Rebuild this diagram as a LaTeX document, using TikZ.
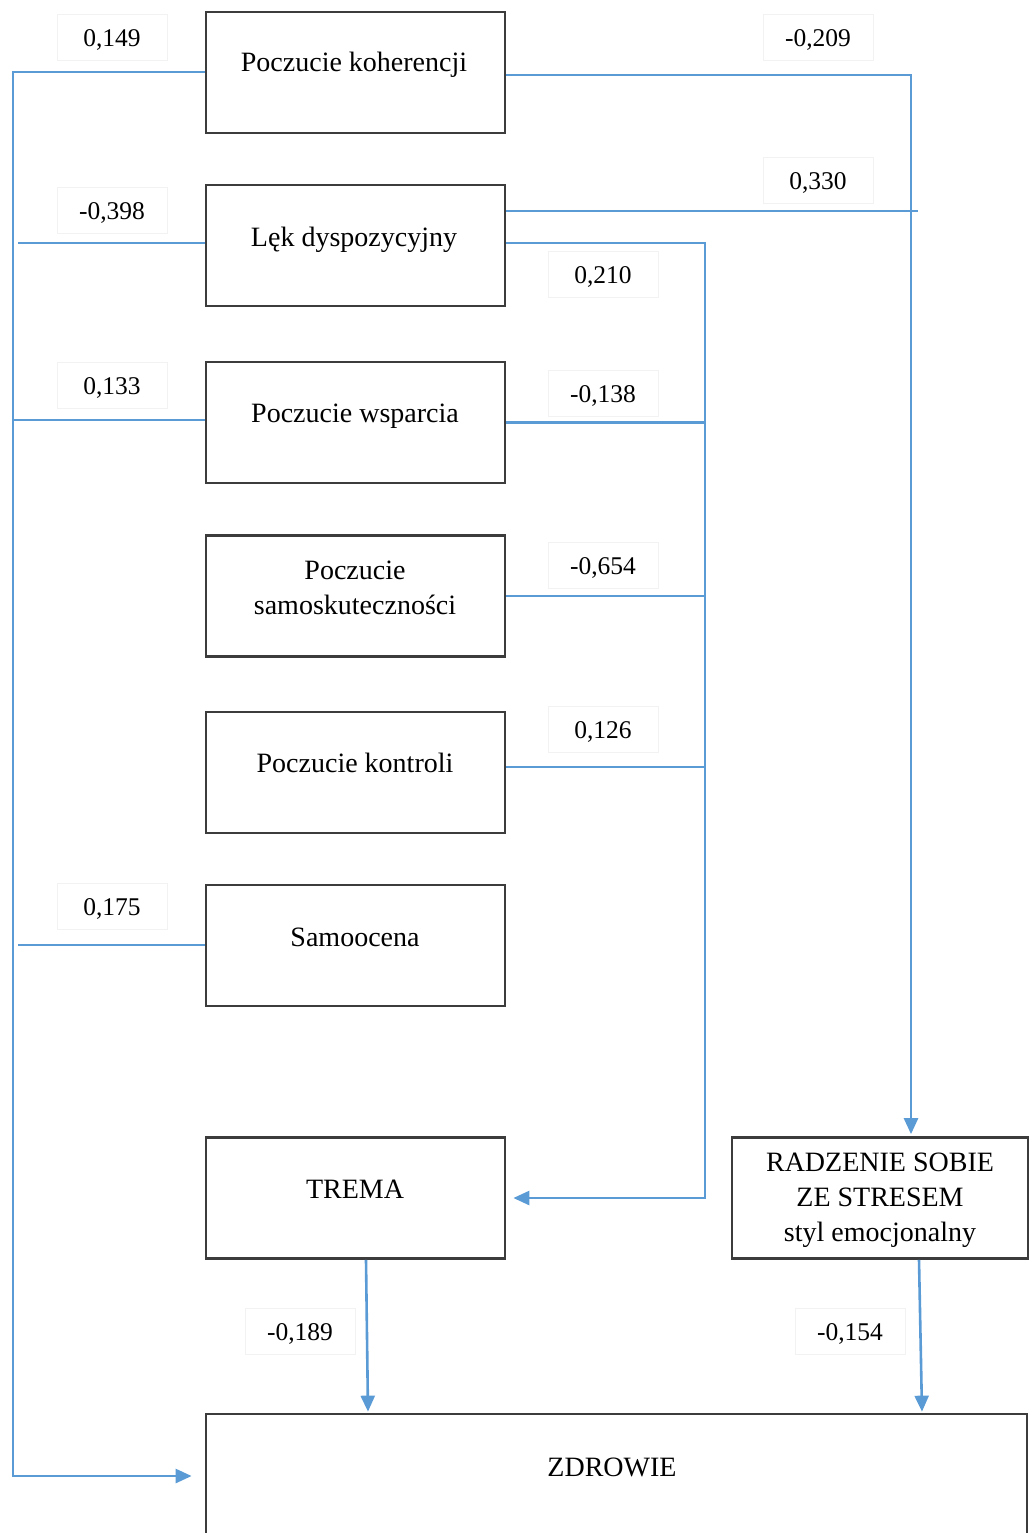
\documentclass[tikz,border=0pt]{standalone}
\usepackage{fontspec}
\setmainfont{Liberation Serif}
\usetikzlibrary{arrows.meta}
\definecolor{pathblue}{RGB}{91,155,213}
\definecolor{boxgray}{RGB}{60,60,60}
\begin{document}
\begin{tikzpicture}[x=1pt,y=-1pt,
  box/.style={draw=boxgray,line width=2.7pt,minimum width=299pt,minimum height=121pt,inner sep=0pt},
  boxtext/.style={font=\fontsize{28}{35}\selectfont,align=center,text height=0.68em,text depth=0.22em,inner sep=0pt},
  multitext/.style={font=\fontsize{28}{35}\selectfont,align=center,inner sep=0pt},
  coef/.style={draw=black!5,line width=0.8pt,minimum width=110pt,minimum height=46pt,inner sep=0pt,
    font=\fontsize{25.5}{30}\selectfont,text height=0.68em+14pt,text depth=0.2em},
  link/.style={draw=pathblue,line width=2.6pt},
  arr/.style={link,-{Triangle[length=16pt,width=14pt]}}]
\useasboundingbox (0,0) rectangle (1029,1533);

% predictor boxes
\node[box] (koh) at (355.5,72.5) {};
\node[box] (lek) at (355.5,245.5) {};
\node[box] (wsp) at (355.5,422.5) {};
\node[box] (sku) at (355.5,596) {};
\node[box] (kon) at (355.5,772.5) {};
\node[box] (sam) at (355.5,945.5) {};
\node[box] (tre) at (355.5,1198) {};
\node[box,minimum width=296pt] (rad) at (880,1198) {};
\node[box,minimum width=821pt,minimum height=140pt] (zdr) at (616.5,1484) {};

\node[boxtext] (tkoh) at (354,69) {Poczucie koherencji};
\node[boxtext] (tlek) at (354,244) {Lęk dyspozycyjny};
\node[boxtext] (twsp) at (355,420) {Poczucie wsparcia};
\node[multitext] (tsku) at (355,588) {Poczucie\\samoskuteczności};
\node[boxtext] (tkon) at (355,770) {Poczucie kontroli};
\node[boxtext] (tsam) at (355,944) {Samoocena};
\node[boxtext] (ttre) at (355,1196) {TREMA};
\node[multitext] (trad) at (880,1200) {RADZENIE SOBIE\\ZE STRESEM\\styl emocjonalny};
\node[boxtext] (tzdr) at (612,1474) {ZDROWIE};

% routing points
\coordinate (spineTop) at (13,72);
\coordinate (spineBot) at (13,1476);
\coordinate (lekL) at (18,243);
\coordinate (wspL) at (13,420);
\coordinate (samL) at (18,945);
\coordinate (rTrunk) at (911,75);
\coordinate (e330) at (918,211);
\coordinate (lTrunk) at (705,243);
\coordinate (lTrunkBot) at (705,1198);
\coordinate (konR) at (705,767);
\coordinate (treOut) at (366,1259);
\coordinate (treIn) at (368,1414);
\coordinate (radOut) at (919,1259);
\coordinate (radIn) at (922,1414);

% left spine into ZDROWIE
\draw[arr,shorten >=13pt] (koh.west |- spineTop) -- (spineTop) -- (spineBot) -- (zdr.west |- spineBot);
\draw[link] (lek.west |- lekL) -- (lekL);
\draw[link] (wsp.west |- wspL) -- (wspL);
\draw[link] (sam.west |- samL) -- (samL);

% right trunk into RADZENIE
\draw[arr,shorten >=2pt] (koh.east |- rTrunk) -- (rTrunk) -- (rTrunk |- rad.north);
\draw[link] (lek.east |- e330) -- (e330);

% middle trunk into TREMA
\draw[arr,shorten >=7pt] (lek.east |- lTrunk) -- (lTrunk) -- (lTrunkBot) -- (tre.east |- lTrunkBot);
\draw[link] (wsp.east) -- (lTrunk |- wsp.east);
\draw[link] (sku.east) -- (lTrunk |- sku.east);
\draw[link] (kon.east |- konR) -- (konR);

% into ZDROWIE
\draw[arr,shorten >=1pt] (tre.south -| treOut) -- (zdr.north -| treIn);
\draw[arr,shorten >=1pt] (rad.south -| radOut) -- (zdr.north -| radIn);

% path coefficients
\node[coef] (c149) at (112,37) {0,149};
\node[coef] (c209) at (818,37) {-0,209};
\node[coef] (c398) at (112,210) {-0,398};
\node[coef] (c330) at (818,180) {0,330};
\node[coef] (c210) at (603,274) {0,210};
\node[coef] (c133) at (112,385) {0,133};
\node[coef] (c138) at (603,393) {-0,138};
\node[coef] (c654) at (603,565) {-0,654};
\node[coef] (c126) at (603,729) {0,126};
\node[coef] (c175) at (112,906) {0,175};
\node[coef] (c189) at (300,1331) {-0,189};
\node[coef] (c154) at (850,1331) {-0,154};
\end{tikzpicture}
\end{document}
